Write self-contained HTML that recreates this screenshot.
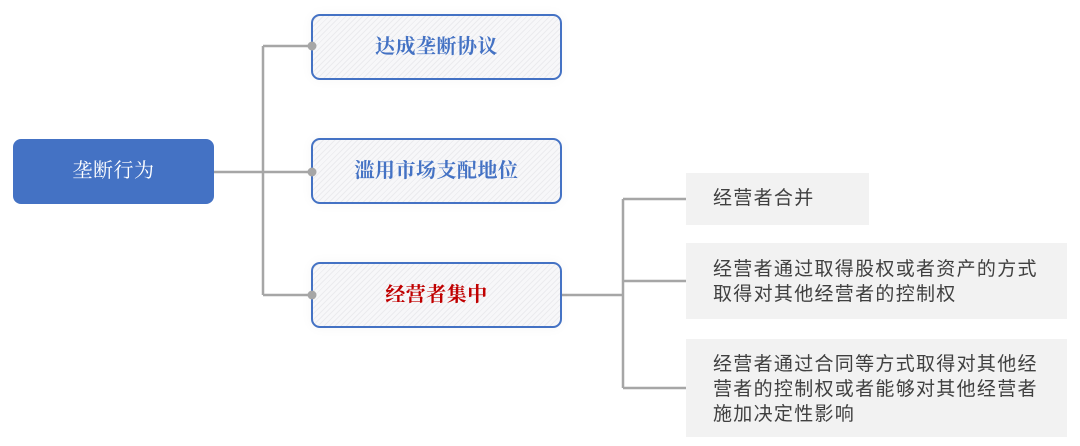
<!DOCTYPE html>
<html>
<head>
<meta charset="utf-8">
<style>
  html,body{margin:0;padding:0;background:#fff;}
  body{width:1080px;height:446px;position:relative;overflow:hidden;}
  .root{position:absolute;left:13px;top:139px;width:201px;height:65px;background:#4472c4;border-radius:8px;
    color:#fff;font:20px/65px "Liberation Serif","Noto Serif CJK SC",serif;text-align:center;letter-spacing:0.5px;}
  .l1{position:absolute;left:311px;width:247px;height:62px;border:2px solid #4472c4;border-radius:9px;
    background:repeating-linear-gradient(135deg,#f7f7f9 0px,#f7f7f9 3px,#ebebee 3px,#ebebee 4px);
    font:20px/62px "Liberation Serif","Noto Serif CJK SC",serif;text-align:center;color:#4472c4;font-weight:bold;letter-spacing:0.5px;
    box-shadow:0 0 12px rgba(0,0,0,0.04);}
  .l2{position:absolute;left:686px;background:#f2f2f2;color:#404040;
    font:19px/25px "Liberation Sans","Noto Sans CJK SC",sans-serif;letter-spacing:1.3px;
    box-sizing:border-box;padding-left:27px;}
  svg{position:absolute;left:0;top:0;}
</style>
</head>
<body>
<svg width="1080" height="446">
  <g stroke="#a6a6a6" stroke-width="2.5" fill="none">
    <line x1="214" y1="172" x2="311" y2="172"/>
    <line x1="263" y1="46" x2="263" y2="295"/>
    <line x1="263" y1="46" x2="311" y2="46"/>
    <line x1="263" y1="295" x2="311" y2="295"/>
    <line x1="561" y1="295" x2="623" y2="295"/>
    <line x1="623" y1="199" x2="623" y2="388"/>
    <line x1="623" y1="199" x2="686" y2="199"/>
    <line x1="623" y1="281" x2="686" y2="281"/>
    <line x1="623" y1="388" x2="686" y2="388"/>
  </g>
</svg>
<div class="root">垄断行为</div>
<div class="l1" style="top:14px;">达成垄断协议</div>
<div class="l1" style="top:138px;">滥用市场支配地位</div>
<div class="l1" style="top:262px;color:#c00000;">经营者集中</div>
<svg width="1080" height="446">
  <g fill="#a6a6a6">
    <circle cx="312" cy="46" r="4.5"/>
    <circle cx="312" cy="172" r="4.5"/>
    <circle cx="312" cy="295" r="4.5"/>
  </g>
</svg>
<div class="l2" style="top:173px;width:183px;height:52px;padding-top:13px;">经营者合并</div>
<div class="l2" style="top:243px;width:381px;height:76px;padding-top:14px;">经营者通过取得股权或者资产的方式<br>取得对其他经营者的控制权</div>
<div class="l2" style="top:339px;width:381px;height:98px;padding-top:13px;">经营者通过合同等方式取得对其他经<br>营者的控制权或者能够对其他经营者<br>施加决定性影响</div>
</body>
</html>
